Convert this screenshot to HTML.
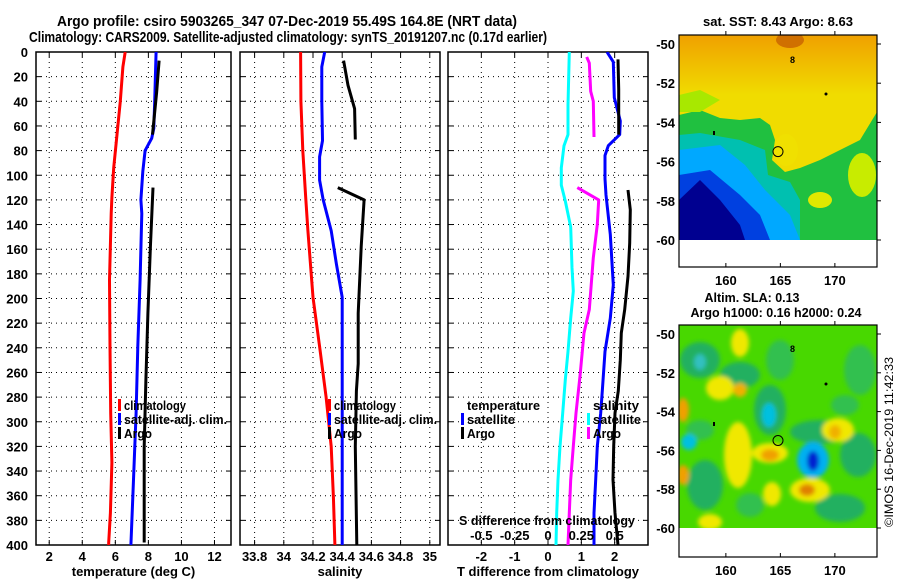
<!DOCTYPE html>
<html><head><meta charset="utf-8"><style>
html,body{margin:0;padding:0;background:#fff;}
svg{display:block;font-family:"Liberation Sans",Arial,sans-serif;font-weight:bold;}
</style></head><body>
<svg id="chart" width="900" height="580" viewBox="0 0 900 580" xmlns="http://www.w3.org/2000/svg">
<rect width="900" height="580" fill="#fff"/>
<g id="titles" font-size="15">
<text x="57" y="26" textLength="460" lengthAdjust="spacingAndGlyphs">Argo profile: csiro 5903265_347 07-Dec-2019 55.49S 164.8E (NRT data)</text>
<text x="29" y="42" textLength="518" lengthAdjust="spacingAndGlyphs">Climatology: CARS2009. Satellite-adjusted climatology: synTS_20191207.nc (0.17d earlier)</text>
</g>
<g id="panels"></g>

<!-- Map 1: SST -->
<g>
<text x="778" y="26" text-anchor="middle" font-size="13" textLength="150" lengthAdjust="spacingAndGlyphs">sat. SST: 8.43 Argo: 8.63</text>
<clipPath id="c1"><rect x="679" y="35" width="198" height="205"/></clipPath>
<defs><linearGradient id="og" x1="0" y1="0" x2="0" y2="1"><stop offset="0" stop-color="#f0a000"/><stop offset="0.6" stop-color="#f0c400"/><stop offset="1" stop-color="#f0dc00"/></linearGradient></defs>
<g clip-path="url(#c1)">
<rect x="679" y="35" width="198" height="205" fill="#f0dc00"/>
<rect x="679" y="35" width="198" height="60" fill="url(#og)"/>
<ellipse cx="790" cy="40" rx="14" ry="8" fill="#d07000"/>
<polygon fill="#20c040" points="679,115 700,110 720,118 740,120 760,118 770,125 775,140 772,160 785,172 800,168 820,160 840,150 860,140 877,112 877,240 679,240"/>
<polygon fill="#a8e800" points="679,95 700,90 720,100 700,112 679,112"/>
<polygon fill="#00c0b0" points="679,135 700,133 740,140 765,150 768,175 790,182 800,200 800,240 679,240"/>
<polygon fill="#00a8ff" points="679,150 720,145 745,165 765,190 790,215 800,240 679,240"/>
<polygon fill="#0040e0" points="679,175 710,170 740,195 760,215 770,240 679,240"/>
<polygon fill="#000090" points="679,200 700,180 720,200 740,225 745,240 679,240"/>
<ellipse cx="786" cy="150" rx="12" ry="16" fill="#f0e000"/>
<ellipse cx="820" cy="200" rx="12" ry="8" fill="#e0e800"/>
<ellipse cx="862" cy="175" rx="14" ry="22" fill="#c8ec00"/>
</g>
<rect x="679" y="35" width="198" height="232" fill="none" stroke="#000" stroke-width="1.2"/>
<circle cx="778" cy="151.6" r="5" fill="none" stroke="#000"/>
<text x="790" y="63" font-size="9">8</text><circle cx="826" cy="94" r="1.5"/><rect x="713" y="131" width="2" height="4"/>
<g id="m1ticks"></g>
</g>

<!-- Map 2: SLA -->
<g>
<text x="752" y="302" text-anchor="middle" font-size="13" textLength="95" lengthAdjust="spacingAndGlyphs">Altim. SLA: 0.13</text>
<text x="776" y="317" text-anchor="middle" font-size="13" textLength="171" lengthAdjust="spacingAndGlyphs">Argo h1000: 0.16 h2000: 0.24</text>
<clipPath id="c2"><rect x="679" y="325" width="198" height="203"/></clipPath>
<filter id="bl"><feGaussianBlur stdDeviation="2"/></filter>
<g clip-path="url(#c2)">
<rect x="679" y="325" width="198" height="203" fill="#48d800"/>
<g filter="url(#bl)">
<ellipse cx="700" cy="360" rx="20" ry="18" fill="#20b060"/>
<ellipse cx="740" cy="375" rx="20" ry="13" fill="#20b060"/>
<ellipse cx="770" cy="410" rx="16" ry="25" fill="#20b060"/>
<ellipse cx="820" cy="432" rx="30" ry="12" fill="#20b060"/>
<ellipse cx="858" cy="455" rx="18" ry="22" fill="#20b060"/>
<ellipse cx="705" cy="485" rx="18" ry="25" fill="#20b060"/>
<ellipse cx="840" cy="508" rx="25" ry="14" fill="#20b060"/>
<ellipse cx="780" cy="360" rx="14" ry="20" fill="#30c050"/>
<ellipse cx="860" cy="370" rx="16" ry="25" fill="#30c050"/>
<ellipse cx="700" cy="430" rx="14" ry="10" fill="#30c050"/>
<ellipse cx="845" cy="405" rx="14" ry="10" fill="#30c050"/>
<ellipse cx="750" cy="505" rx="14" ry="12" fill="#30c050"/>
<ellipse cx="700" cy="362" rx="6" ry="8" fill="#30c0c0"/>
<ellipse cx="769" cy="415" rx="7" ry="12" fill="#00c0e0"/>
<ellipse cx="689" cy="442" rx="8" ry="8" fill="#00c0e0"/>
<ellipse cx="813" cy="460" rx="16" ry="18" fill="#00b0f0"/>
<ellipse cx="813" cy="461" rx="6" ry="10" fill="#0020d0"/>
<ellipse cx="720" cy="388" rx="14" ry="12" fill="#f0e800"/>
<ellipse cx="740" cy="390" rx="7" ry="7" fill="#f0b000"/>
<ellipse cx="738" cy="455" rx="14" ry="33" fill="#f0e800"/>
<ellipse cx="770" cy="453" rx="18" ry="10" fill="#f0e800"/>
<ellipse cx="770" cy="455" rx="9" ry="6" fill="#f0a000"/>
<ellipse cx="810" cy="490" rx="20" ry="12" fill="#f0e800"/>
<ellipse cx="807" cy="490" rx="8" ry="6" fill="#e08000"/>
<ellipse cx="838" cy="430" rx="16" ry="12" fill="#f0e800"/>
<ellipse cx="835" cy="432" rx="6" ry="7" fill="#f0b000"/>
<ellipse cx="683" cy="410" rx="6" ry="12" fill="#f0a000"/>
<ellipse cx="683" cy="475" rx="6" ry="10" fill="#f0a000"/>
<ellipse cx="740" cy="343" rx="9" ry="14" fill="#f0e800"/>
<ellipse cx="710" cy="522" rx="12" ry="8" fill="#f0e800"/>
<ellipse cx="772" cy="494" rx="9" ry="12" fill="#f0e800"/>
</g>
</g>
<rect x="679" y="325" width="198" height="232" fill="none" stroke="#000" stroke-width="1.2"/>
<circle cx="778" cy="440.5" r="5" fill="none" stroke="#000"/>
<text x="790" y="352" font-size="9">8</text><circle cx="826" cy="384" r="1.5"/><rect x="713" y="422" width="2" height="4"/>
<g id="m2ticks"></g>
</g>
<text transform="translate(893,442) rotate(-90)" text-anchor="middle" font-size="12" font-weight="normal" textLength="170" lengthAdjust="spacingAndGlyphs">©IMOS 16-Dec-2019 11:42:33</text>
</svg>
<script>
// ---- data (depth arrays and value arrays) ----
const depthTicks = [0,20,40,60,80,100,120,140,160,180,200,220,240,260,280,300,320,340,360,380,400];
const tempTicks = [2,4,6,8,10,12];
const salTicks = [33.8,34,34.2,34.4,34.6,34.8,35];
const tdiffTicks = [-2,-1,0,1,2];
const sdiffTicks = [-0.5,-0.25,0,0.25,0.5];
const sdiffTickLabels = ["-0.5","-0.25","0","0.25","0.5"];
const salTickLabels = ["33.8","34","34.2","34.4","34.6","34.8","35"];

const tClimD = [0,12,40,67,94,118,131,185,239,293,333,374,398,400];
const tClimV = [6.6,6.46,6.3,6.1,5.9,5.79,5.75,5.65,5.68,5.72,5.79,5.7,5.6,5.6];
const tSatD = [0,8,40,62,70,80,97,120,131,185,239,293,347,400];
const tSatV = [8.47,8.45,8.38,8.33,8.2,7.8,7.66,7.55,7.6,7.5,7.36,7.26,7.1,6.94];
const tArgoD1 = [7,33,67];
const tArgoV1 = [8.65,8.5,8.25];
const tArgoD2 = [110,158,212,266,320,398];
const tArgoV2 = [8.28,8.12,7.97,7.85,7.75,7.75];

const sClimD = [0,40,80,118,145,199,239,280,320,361,400];
const sClimV = [34.115,34.117,34.13,34.15,34.165,34.2,34.245,34.29,34.325,34.34,34.35];
const sSatD = [0,12,40,72,85,104,120,145,172,199,400];
const sSatV = [34.28,34.26,34.26,34.265,34.245,34.245,34.27,34.325,34.36,34.4,34.4];
const sArgoD1 = [7,27,46,71];
const sArgoV1 = [34.41,34.44,34.485,34.49];
const sArgoD2 = [110,120,158,212,253,275,320,400];
const sArgoV2 = [34.37,34.55,34.53,34.51,34.51,34.497,34.49,34.5];

const dTSatD = [0,8,37,56,67,76,84,103,116,148,189,216,243,275,293,320,347,374,400];
const dTSatV = [1.77,1.96,1.99,2.17,2.15,1.81,1.71,1.71,1.74,1.87,1.96,1.87,1.71,1.63,1.58,1.48,1.43,1.38,1.38];
const dTArgoD1 = [6,30,67];
const dTArgoV1 = [2.1,2.12,2.12];
const dTArgoD2 = [112,128,155,182,209,228,250,275,293,320,347,374,400];
const dTArgoV2 = [2.4,2.47,2.45,2.4,2.3,2.2,2.17,2.11,2.01,1.97,1.95,2.01,2.1];
const dSSatD = [0,43,67,76,94,108,121,142,175,194,216,243,266,293,320,347,374,400];
const dSSatV = [0.16,0.15,0.15,0.12,0.10,0.10,0.13,0.17,0.18,0.19,0.17,0.15,0.13,0.11,0.09,0.075,0.065,0.06];
const dSArgoD1 = [4,9,32,40,69];
const dSArgoV1 = [0.29,0.31,0.32,0.34,0.345];
const dSArgoD2 = [110,120,140,167,209,228,263,293,320,347,374,400];
const dSArgoV2 = [0.22,0.38,0.37,0.34,0.31,0.27,0.24,0.21,0.19,0.17,0.16,0.15];

const lonTicks = [160,165,170];
const latTicks = [-50,-52,-54,-56,-58,-60];

// ---- scales ----
const NS = "http://www.w3.org/2000/svg";
const yTop = 52, yBot = 545;
function yD(d){ return yTop + d*(yBot-yTop)/400; }
function xT(t){ return 36 + (t-1.2)*(231-36)/(13.0-1.2); }
function xS(s){ return 240 + (s-33.7)*(440-240)/(35.07-33.7); }
function xDT(t){ return 448 + (t+3)*(648-448)/6; }
function xDS(s){ return xDT(s*4); }
function mk(tag, attrs, parent){
  const e = document.createElementNS(NS, tag);
  for (const k in attrs) e.setAttribute(k, attrs[k]);
  parent.appendChild(e); return e;
}
const root = document.getElementById('panels');

function panel(name, x0, x1, xfn, ticks, labels, title, showY){
  const g = mk('g', {}, root);
  
  
  const cid = name + '-clip';
  const cp = mk('clipPath', {id: cid}, g);
  mk('rect', {x: x0, y: yTop, width: x1-x0, height: yBot-yTop}, cp);
  depthTicks.forEach(d => {
    if (d===0||d===400) return;
    const gl = mk('line', {x1:x0, x2:x1, y1:yD(d), y2:yD(d), stroke:'#000', 'stroke-width':1, 'stroke-dasharray':'1,4'}, g);
    
    
    mk('line', {x1:x0, x2:x0+5, y1:yD(d), y2:yD(d), stroke:'#000'}, g);
    mk('line', {x1:x1-5, x2:x1, y1:yD(d), y2:yD(d), stroke:'#000'}, g);
  });
  ticks.forEach((t,i) => {
    const x = xfn(t);
    const vl = mk('line', {x1:x, x2:x, y1:yTop, y2:yBot, stroke:'#000', 'stroke-width':1, 'stroke-dasharray':'1,4'}, g);
    
    
    mk('line', {x1:x, x2:x, y1:yTop, y2:yTop+5, stroke:'#000'}, g);
    mk('line', {x1:x, x2:x, y1:yBot-5, y2:yBot, stroke:'#000'}, g);
    const tl = mk('text', {x:x, y:561, 'text-anchor':'middle', 'font-size':13}, g);
    tl.textContent = labels[i];
    
    
  });
  mk('rect', {x:x0, y:yTop, width:x1-x0, height:yBot-yTop, fill:'none', stroke:'#000', 'stroke-width':1.5}, g);
  if (showY){
    depthTicks.forEach(d => {
      const yl = mk('text', {x:28, y:yD(d)+5, 'text-anchor':'end', 'font-size':13}, g);
      yl.textContent = d;
      
      
    });
  }
  const at = mk('text', {x:(x0+x1)/2, y:576, 'text-anchor':'middle', 'font-size':13}, g);
  at.textContent = title;
  
  
  const lines = mk('g', {'clip-path':'url(#'+cid+')'}, g);
  return lines;
}
function series(parent, name, ds, vs, fn, color){
  const pts = ds.map((d,i) => fn(vs[i]).toFixed(1)+','+yD(d).toFixed(1)).join(' ');
  const p = mk('polyline', {points: pts, fill:'none', stroke: color, 'stroke-width': 3, 'stroke-linejoin':'round'}, parent);
  
  
}
function legend(parent, name, x, items){
  const g = mk('g', {}, parent.parentNode);
  
  
  items.forEach((it,i) => {
    const y = 410 + i*14;
    if (it.c) mk('rect', {x:x, y:y-11, width:3, height:12, fill:it.c}, g);
    const t = mk('text', {x: x+6, y:y, 'font-size':13, textLength: it.w, lengthAdjust:'spacingAndGlyphs'}, g);
    t.textContent = it.t;
    
    
  });
}

const p1 = panel('temperature-panel', 36, 231, xT, tempTicks, tempTicks.map(String), 'temperature (deg C)', true);
series(p1, 'temp-climatology-line', tClimD, tClimV, xT, '#ff0000');
series(p1, 'temp-satellite-line', tSatD, tSatV, xT, '#0000ff');
series(p1, 'temp-argo-line-upper', tArgoD1, tArgoV1, xT, '#000');
series(p1, 'temp-argo-line-lower', tArgoD2, tArgoV2, xT, '#000');
legend(p1, 'temperature-legend', 118, [{t:'climatology',c:'#f00',w:62},{t:'satellite-adj. clim.',c:'#00f',w:103},{t:'Argo',c:'#000',w:28}]);

const p2 = panel('salinity-panel', 240, 440, xS, salTicks, salTickLabels, 'salinity', false);
series(p2, 'sal-climatology-line', sClimD, sClimV, xS, '#ff0000');
series(p2, 'sal-satellite-line', sSatD, sSatV, xS, '#0000ff');
series(p2, 'sal-argo-line-upper', sArgoD1, sArgoV1, xS, '#000');
series(p2, 'sal-argo-line-lower', sArgoD2, sArgoV2, xS, '#000');
legend(p2, 'salinity-legend', 328, [{t:'climatology',c:'#f00',w:62},{t:'satellite-adj. clim.',c:'#00f',w:103},{t:'Argo',c:'#000',w:28}]);

const p3 = panel('difference-panel', 448, 648, xDT, tdiffTicks, tdiffTicks.map(String), 'T difference from climatology', false);
series(p3, 'sdiff-satellite-line', dSSatD, dSSatV, xDS, '#00ffff');
series(p3, 'sdiff-argo-line-upper', dSArgoD1, dSArgoV1, xDS, '#ff00ff');
series(p3, 'sdiff-argo-line-lower', dSArgoD2, dSArgoV2, xDS, '#ff00ff');
series(p3, 'tdiff-satellite-line', dTSatD, dTSatV, xDT, '#0000ff');
series(p3, 'tdiff-argo-line-upper', dTArgoD1, dTArgoV1, xDT, '#000');
series(p3, 'tdiff-argo-line-lower', dTArgoD2, dTArgoV2, xDT, '#000');
legend(p3, 'temperature-diff-legend', 461, [{t:'temperature',c:null,w:73},{t:'satellite',c:'#00f',w:48},{t:'Argo',c:'#000',w:28}]);
legend(p3, 'salinity-diff-legend', 587, [{t:'salinity',c:null,w:46},{t:'satellite',c:'#0ff',w:48},{t:'Argo',c:'#f0f',w:28}]);
const sdTitle = mk('text', {x:547, y:525, 'text-anchor':'middle', 'font-size':13, textLength:176, lengthAdjust:'spacingAndGlyphs'}, p3.parentNode);
sdTitle.textContent = 'S difference from climatology';


sdiffTicks.forEach((s,i) => {
  const t = mk('text', {x:xDS(s), y:540, 'text-anchor':'middle', 'font-size':13}, p3.parentNode);
  t.textContent = sdiffTickLabels[i];
  
  
});

function mapAxes(id, top, lat50y, latScale, bottom, labelY){
  const g = document.getElementById(id);
  const lonX = lon => 679 + (lon-155.7)*10.9;
  lonTicks.forEach(l => {
    const x = lonX(l);
    mk('line', {x1:x, x2:x, y1:top, y2:top-4, stroke:'#000'}, g);
    mk('line', {x1:x, x2:x, y1:bottom, y2:bottom-4, stroke:'#000'}, g);
    const t = mk('text', {x:x, y:labelY, 'text-anchor':'middle', 'font-size':13}, g);
    t.textContent = l;
    
    
  });
  latTicks.forEach(la => {
    const y = lat50y + (-50-la)*latScale;
    mk('line', {x1:877, x2:881, y1:y, y2:y, stroke:'#000'}, g);
    const t = mk('text', {x:675, y:y+5, 'text-anchor':'end', 'font-size':13}, g);
    t.textContent = la;
    
    
  });
}
mapAxes('m1ticks', 35, 44, 19.6, 267, 285);
mapAxes('m2ticks', 325, 334, 19.4, 557, 575);
</script>
</body></html>
